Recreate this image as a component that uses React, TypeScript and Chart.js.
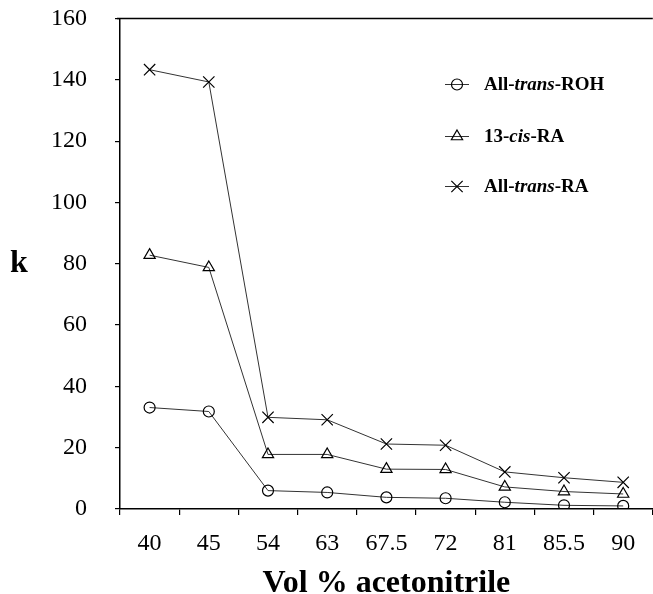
import React, { useEffect, useRef } from 'react';
import { Chart, registerables } from 'chart.js';
import { drawPoint } from 'chart.js/helpers';

Chart.register(...registerables);

// ---- data ----
const categories = ['40', '45', '54', '63', '67.5', '72', '81', '85.5', '90'];
const allTransROH = [33.1, 31.8, 6.0, 5.4, 3.8, 3.5, 2.2, 1.2, 1.0];
const cis13RA = [82.8, 78.8, 17.8, 17.8, 13.0, 12.9, 7.2, 5.7, 4.9];
const allTransRA = [143.3, 139.3, 29.9, 29.1, 21.2, 20.8, 12.1, 10.2, 8.7];

const seriesNames = ['All-trans-ROH', '13-cis-RA', 'All-trans-RA'];
const seriesItalicParts = ['trans', 'cis', 'trans'];
const pointStyles = ['circle', 'triangle', 'crossRot'];
const pointRadii = [5.5, 6.5, 8];

const yMin = 0;
const yMax = 160;
const yStep = 20;
const xTitle = 'Vol % acetonitrile';
const yTitle = 'k';

const FONT = "'Liberation Serif', 'Times New Roman', serif";

const framePlugin = {
  id: 'frameAndLegend',
  afterDraw(chart: any) {
    const ctx = chart.ctx;
    const a = chart.chartArea;
    ctx.save();
    // top frame line
    ctx.strokeStyle = '#000';
    ctx.lineWidth = 1.5;
    ctx.beginPath();
    ctx.moveTo(a.left - 3, a.top);
    ctx.lineTo(a.right, a.top);
    ctx.stroke();

    // y title (horizontal)
    ctx.fillStyle = '#000';
    ctx.font = `bold 32px ${FONT}`;
    ctx.textAlign = 'center';
    ctx.textBaseline = 'middle';
    const yMid = chart.scales.y.getPixelForValue(80);
    ctx.fillText(yTitle, 19, yMid);

    // legend
    const lx = a.left + 337;
    const rows = [84.5, 136.5, 186.5];
    chart.data.datasets.forEach((ds: any, i: number) => {
      const y = rows[i];
      ctx.strokeStyle = '#333';
      ctx.lineWidth = 1;
      ctx.beginPath();
      ctx.moveTo(lx - 12, y);
      ctx.lineTo(lx + 12, y);
      ctx.stroke();
      ctx.strokeStyle = '#000';
      ctx.fillStyle = 'rgba(0,0,0,0)';
      ctx.lineWidth = 1.2;
      drawPoint(ctx, { pointStyle: pointStyles[i], radius: pointRadii[i], rotation: 0, borderWidth: 1.2 } as any, lx, y);
      // text with italic part
      const name = seriesNames[i];
      const it = seriesItalicParts[i];
      const idx = name.indexOf(it);
      const parts = [
        { t: name.slice(0, idx), f: `bold 19px ${FONT}` },
        { t: it, f: `italic bold 19px ${FONT}` },
        { t: name.slice(idx + it.length), f: `bold 19px ${FONT}` },
      ];
      let tx = lx + 27;
      ctx.textAlign = 'left';
      ctx.textBaseline = 'middle';
      ctx.fillStyle = '#000';
      parts.forEach((p) => {
        ctx.font = p.f;
        ctx.fillText(p.t, tx, y + 1);
        tx += ctx.measureText(p.t).width;
      });
    });
    ctx.restore();
  },
};

export default function App() {
  const ref = useRef<HTMLCanvasElement>(null);
  useEffect(() => {
    if (!ref.current) return;
    const series = [allTransROH, cis13RA, allTransRA];
    const chart = new Chart(ref.current, {
      type: 'line',
      data: {
        labels: categories,
        datasets: series.map((d, i) => ({
          label: seriesNames[i],
          data: d,
          borderColor: '#333',
          borderWidth: 1,
          pointStyle: pointStyles[i] as any,
          pointRadius: pointRadii[i],
          pointBorderColor: '#000',
          pointBorderWidth: 1.2,
          pointBackgroundColor: 'rgba(0,0,0,0)',
          tension: 0,
          fill: false,
        })),
      },
      options: {
        responsive: false,
        animation: false,
        devicePixelRatio: 1,
        layout: { padding: { top: 18.5, right: 2, left: 0, bottom: 0 } },
        plugins: { legend: { display: false }, tooltip: { enabled: false } },
        scales: {
          x: {
            type: 'category',
            offset: true,
            grid: {
              display: true,
              drawOnChartArea: false,
              drawTicks: true,
              tickLength: 6,
              offset: true,
              color: '#000',
              lineWidth: 1.2,
            },
            border: { display: true, color: '#000', width: 1.5 },
            ticks: {
              color: '#000',
              font: { family: FONT, size: 24 },
              padding: 14,
              maxRotation: 0,
              autoSkip: false,
            },
            title: {
              display: true,
              text: xTitle,
              color: '#000',
              font: { family: FONT, size: 32, weight: 'bold', lineHeight: 1 },
              padding: { top: 3, bottom: 0 },
            },
            afterFit: (s: any) => {
              s.height = 91;
              s.paddingLeft = 0;
              s.paddingRight = 0;
            },
          },
          y: {
            min: yMin,
            max: yMax,
            grid: {
              display: true,
              drawOnChartArea: false,
              drawTicks: true,
              tickLength: 5,
              color: '#000',
              lineWidth: 1.2,
            },
            border: { display: true, color: '#000', width: 1.5 },
            ticks: {
              stepSize: yStep,
              color: '#000',
              font: { family: FONT, size: 24 },
              padding: 28,
            },
            afterFit: (s: any) => {
              s.width = 120;
              s.paddingTop = 0;
              s.paddingBottom = 0;
            },
          },
        },
      },
      plugins: [framePlugin],
    });
    return () => chart.destroy();
  }, []);
  return (
    <div
      style={{
        position: 'fixed',
        left: 0,
        top: 0,
        width: 653,
        height: 594,
        overflow: 'hidden',
        background: '#fff',
      }}
    >
      <canvas ref={ref} width={662} height={600} style={{ display: 'block' }} />
    </div>
  );
}
